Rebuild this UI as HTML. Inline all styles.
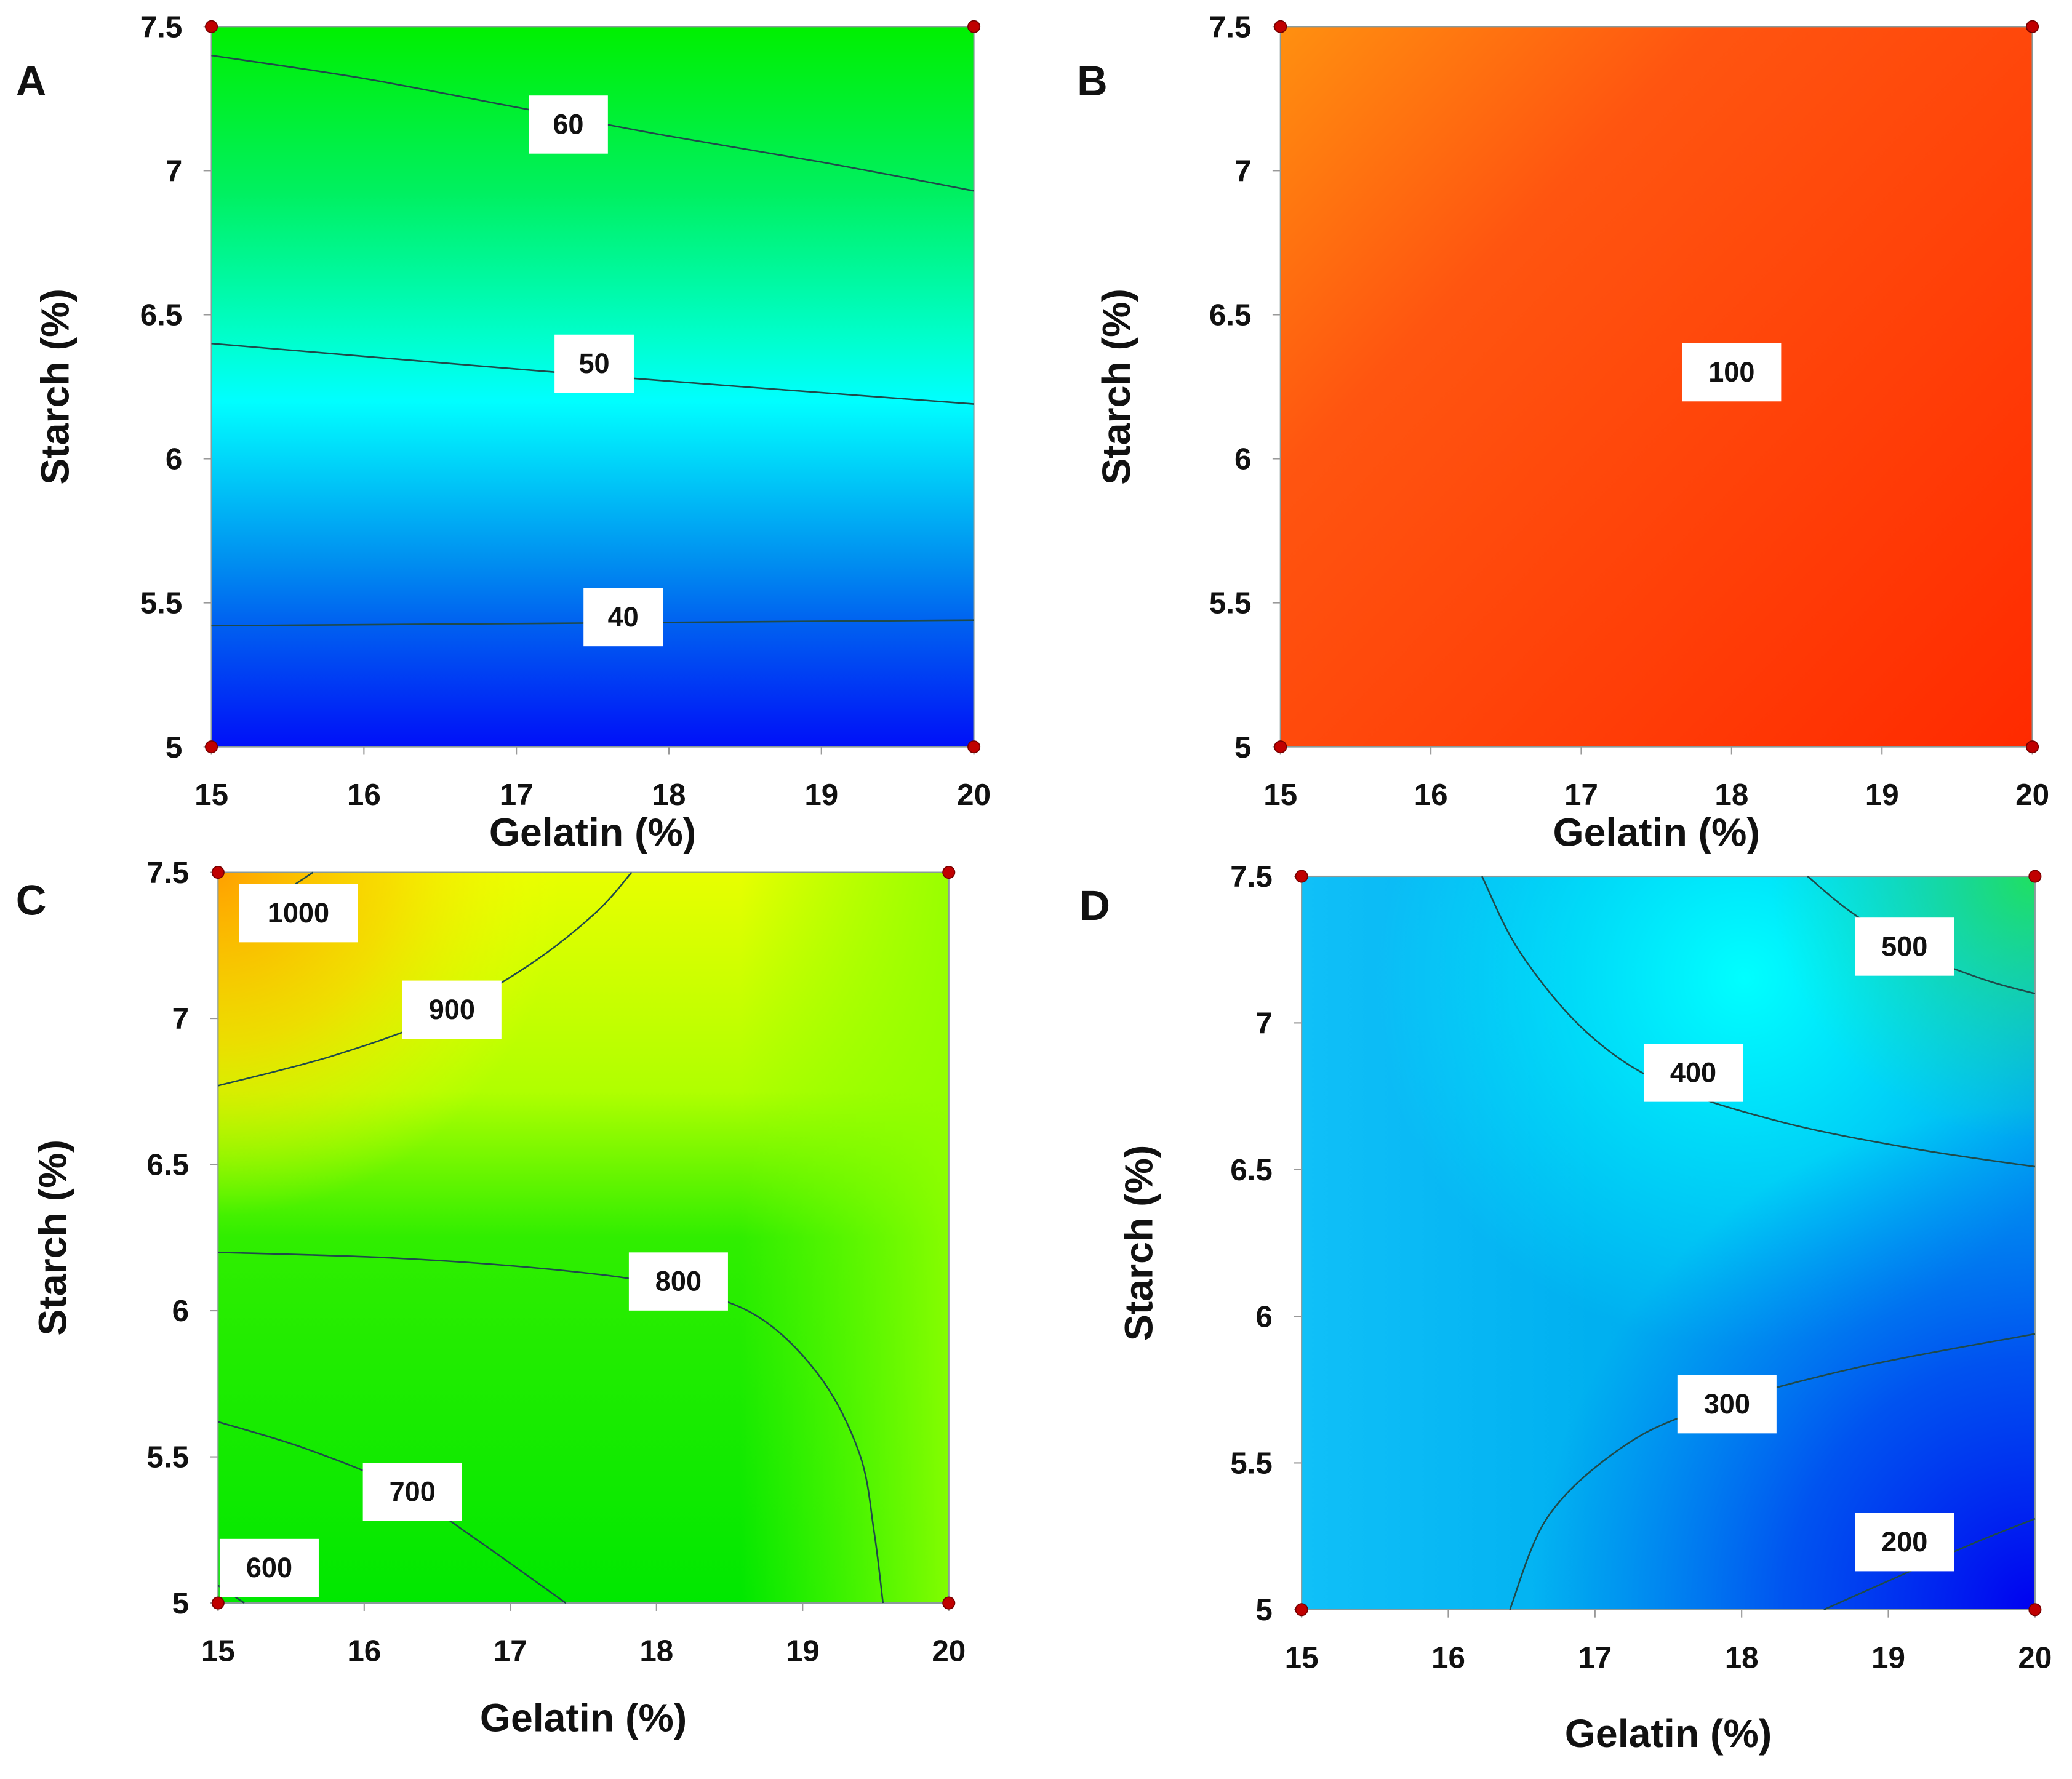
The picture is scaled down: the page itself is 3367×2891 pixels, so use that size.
<!DOCTYPE html>
<html><head><meta charset="utf-8"><style>
html,body{margin:0;padding:0;background:#fff}
svg{display:block}
text{font-family:"Liberation Sans",Arial,sans-serif;font-weight:bold;fill:#111}
</style></head><body>
<svg id="fig" width="3367" height="2891" viewBox="0 0 1568 1346" xmlns="http://www.w3.org/2000/svg">
<defs>
<linearGradient id="gA" gradientUnits="userSpaceOnUse" x1="0" y1="20" x2="0" y2="565">
<stop offset="0" stop-color="#00f000"/><stop offset="0.23" stop-color="#00f060"/><stop offset="0.44" stop-color="#00ffd0"/><stop offset="0.52" stop-color="#00ffff"/><stop offset="0.74" stop-color="#0090f0"/><stop offset="0.83" stop-color="#0060f0"/><stop offset="1" stop-color="#0010f8"/></linearGradient>
<linearGradient id="gB" gradientUnits="userSpaceOnUse" x1="969" y1="20" x2="1538" y2="565">
<stop offset="0" stop-color="#ff9010"/><stop offset="0.3" stop-color="#ff5510"/><stop offset="1" stop-color="#ff2a00"/></linearGradient>
<linearGradient id="gC" gradientUnits="userSpaceOnUse" x1="0" y1="660" x2="0" y2="1213">
<stop offset="0" stop-color="#e8ff00"/><stop offset="0.3" stop-color="#b0ff00"/><stop offset="0.5" stop-color="#30ee00"/><stop offset="1" stop-color="#00e800"/></linearGradient>
<radialGradient id="gC2" gradientUnits="userSpaceOnUse" cx="165" cy="660" r="260">
<stop offset="0" stop-color="#ffa000"/><stop offset="0.5" stop-color="#ffd000" stop-opacity="0.7"/><stop offset="1" stop-color="#ffff00" stop-opacity="0"/></radialGradient>
<linearGradient id="gC3" gradientUnits="userSpaceOnUse" x1="560" y1="0" x2="718" y2="0">
<stop offset="0" stop-color="#80ff00" stop-opacity="0"/><stop offset="1" stop-color="#90ff00" stop-opacity="0.9"/></linearGradient>
<linearGradient id="gD" gradientUnits="userSpaceOnUse" x1="985" y1="0" x2="1540" y2="0">
<stop offset="0" stop-color="#10c0f8"/><stop offset="0.4" stop-color="#00b0f0"/><stop offset="1" stop-color="#00a0f0"/></linearGradient>
<radialGradient id="gD2" gradientUnits="userSpaceOnUse" cx="1320" cy="740" r="280">
<stop offset="0" stop-color="#00ffff"/><stop offset="1" stop-color="#00ffff" stop-opacity="0"/></radialGradient>
<radialGradient id="gD3" gradientUnits="userSpaceOnUse" cx="1540" cy="663" r="200">
<stop offset="0" stop-color="#20e060"/><stop offset="1" stop-color="#20e0a0" stop-opacity="0"/></radialGradient>
<radialGradient id="gD4" gradientUnits="userSpaceOnUse" cx="1540" cy="1218" r="380">
<stop offset="0" stop-color="#0000f0"/><stop offset="0.5" stop-color="#0030f0" stop-opacity="0.7"/><stop offset="1" stop-color="#0050f0" stop-opacity="0"/></radialGradient>
</defs>
</svg>
<script>
// ---- data ----
const gelatinTicks = [15, 16, 17, 18, 19, 20];
const starchTicks = [5, 5.5, 6, 6.5, 7, 7.5];
const starchTickLabels = ["5", "5.5", "6", "6.5", "7", "7.5"];
const contourA60 = [[15,7.40],[16,7.32],[17,7.22],[18,7.12],[19,7.03],[20,6.93]];
const contourA50 = [[15,6.40],[17.5,6.29],[20,6.19]];
const contourA40 = [[15,5.42],[17.5,5.43],[20,5.44]];
const labelsA = [[17.34,7.16,"60"],[17.51,6.33,"50"],[17.7,5.45,"40"]];
const labelsB = [[18.0,6.30,"100"]];
const contourC1000 = [[15.5,7.45],[15.65,7.5]];
const contourC900 = [[15,6.77],[15.77,6.87],[16.49,7.0],[17.12,7.18],[17.58,7.36],[17.83,7.5]];
const contourC800 = [[15,6.2],[16.22,6.18],[17.31,6.14],[18.03,6.09],[18.66,5.99],[19.11,5.78],[19.39,5.51],[19.49,5.24],[19.55,5]];
const contourC700 = [[15,5.62],[15.59,5.53],[16.22,5.4],[16.76,5.22],[17.38,5]];
const contourC600 = [[15,5.06],[15.18,5]];
const labelsC = [[15.55,7.36,"1000"],[16.6,7.03,"900"],[18.15,6.1,"800"],[16.33,5.38,"700"],[15.35,5.12,"600"]];
const contourD500 = [[18.45,7.5],[18.74,7.38],[19.19,7.24],[19.64,7.15],[20,7.1]];
const contourD400 = [[16.23,7.5],[16.49,7.24],[16.94,6.97],[17.48,6.79],[18.29,6.66],[19.19,6.57],[20,6.51]];
const contourD300 = [[16.42,5],[16.67,5.31],[17.12,5.53],[17.66,5.67],[18.74,5.82],[20,5.94]];
const contourD200 = [[18.56,5],[19.01,5.1],[19.55,5.22],[20,5.31]];
const labelsD = [[19.11,7.26,"500"],[17.67,6.83,"400"],[17.9,5.7,"300"],[19.11,5.23,"200"]];

const svg = document.getElementById('fig');
const NS = 'http://www.w3.org/2000/svg';
function mk(tag, attrs, parent){const e=document.createElementNS(NS,tag);for(const k in attrs)e.setAttribute(k,attrs[k]);(parent||svg).appendChild(e);return e;}
function smooth(pts){
  if(pts.length<3) return pts.map((p,i)=>(i?'L':'M')+p[0].toFixed(1)+' '+p[1].toFixed(1)).join(' ');
  let d='M'+pts[0][0].toFixed(1)+' '+pts[0][1].toFixed(1);
  for(let i=0;i<pts.length-1;i++){
    const p0=pts[Math.max(0,i-1)],p1=pts[i],p2=pts[i+1],p3=pts[Math.min(pts.length-1,i+2)];
    const c1=[p1[0]+(p2[0]-p0[0])/6,p1[1]+(p2[1]-p0[1])/6];
    const c2=[p2[0]-(p3[0]-p1[0])/6,p2[1]-(p3[1]-p1[1])/6];
    d+=' C'+c1[0].toFixed(1)+' '+c1[1].toFixed(1)+' '+c2[0].toFixed(1)+' '+c2[1].toFixed(1)+' '+p2[0].toFixed(1)+' '+p2[1].toFixed(1);
  }
  return d;
}

function panel(p){
  const g = mk('g',{});
  
  
  const xs = v => p.x0 + (v-15)/5*(p.x1-p.x0);
  const ys = v => p.y0 - (v-5)/2.5*(p.y0-p.y1);
  const w=p.x1-p.x0, h=p.y0-p.y1;
  const bg = mk('rect',{x:p.x0,y:p.y1,width:w,height:h,fill:p.fills[0]},g);
  
  
  for(let i=1;i<p.fills.length;i++) mk('rect',{x:p.x0,y:p.y1,width:w,height:h,fill:p.fills[i]},g);
  mk('rect',{x:p.x0,y:p.y1,width:w,height:h,fill:'none',stroke:'#8a9a9a','stroke-width':1},g);
  p.contours.forEach(c=>{
    const pts = c.map(pt=>[xs(pt[0]),ys(pt[1])]);
    const path = mk('path',{d:smooth(pts),fill:'none',stroke:'#1f4a4a','stroke-width':1.2},g);
    
    
  });
  p.labels.forEach(l=>{
    const bw = l[2].length*15+30, bh=44;
    const cx=xs(l[0]), cy=ys(l[1]);
    const r = mk('rect',{x:cx-bw/2,y:cy-bh/2,width:bw,height:bh,fill:'#fff'},g);
    
    
    const t = mk('text',{x:cx,y:cy+7,'text-anchor':'middle','font-size':21},g);
    t.textContent = l[2];
    
    
  });
  gelatinTicks.forEach(v=>{
    mk('line',{x1:xs(v),x2:xs(v),y1:p.y0,y2:p.y0+6,stroke:'#999','stroke-width':1},g);
    const t = mk('text',{x:xs(v),y:p.y0+44,'text-anchor':'middle','font-size':23},g);
    t.textContent = v;
    
    
  });
  starchTicks.forEach((v,i)=>{
    mk('line',{x1:p.x0-6,x2:p.x0,y1:ys(v),y2:ys(v),stroke:'#999','stroke-width':1},g);
    const t = mk('text',{x:p.x0-22,y:ys(v)+8,'text-anchor':'end','font-size':23},g);
    t.textContent = starchTickLabels[i];
    
    
  });
  [[15,5],[15,7.5],[20,5],[20,7.5]].forEach(c=>{
    const dot = mk('circle',{cx:xs(c[0]),cy:ys(c[1]),r:4.5,fill:'#c00000',stroke:'#700','stroke-width':0.8},g);
    
    
  });
  const xt = mk('text',{x:(p.x0+p.x1)/2,y:p.xTitleY,'text-anchor':'middle','font-size':30},g);
  xt.textContent = 'Gelatin (%)';
  
  
  const yc = (p.y0+p.y1)/2;
  const yt = mk('text',{x:p.yTitleX,y:yc,'text-anchor':'middle','font-size':30,transform:'rotate(-90 '+p.yTitleX+' '+yc+')'},g);
  yt.textContent = 'Starch (%)';
  
  
  const pl = mk('text',{x:p.lx,y:p.ly,'font-size':32},g);
  pl.textContent = p.id;
  
  
}

panel({id:'A',x0:160,x1:737,y0:565,y1:20,fills:['url(#gA)'],contours:[contourA60,contourA50,contourA40],labels:labelsA,xTitleY:640,yTitleX:52,lx:12,ly:72});
panel({id:'B',x0:969,x1:1538,y0:565,y1:20,fills:['url(#gB)'],contours:[],labels:labelsB,xTitleY:640,yTitleX:855,lx:815,ly:72});
panel({id:'C',x0:165,x1:718,y0:1213,y1:660,fills:['url(#gC)','url(#gC2)','url(#gC3)'],contours:[contourC1000,contourC900,contourC800,contourC700,contourC600],labels:labelsC,xTitleY:1310,yTitleX:50,lx:12,ly:692});
panel({id:'D',x0:985,x1:1540,y0:1218,y1:663,fills:['url(#gD)','url(#gD2)','url(#gD3)','url(#gD4)'],contours:[contourD500,contourD400,contourD300,contourD200],labels:labelsD,xTitleY:1322,yTitleX:872,lx:817,ly:696});
</script>
</body></html>
